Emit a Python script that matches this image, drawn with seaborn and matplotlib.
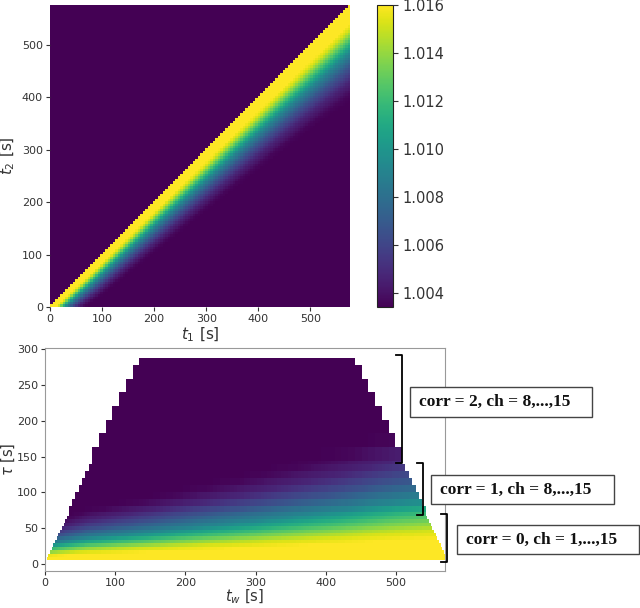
import numpy as np
import matplotlib
matplotlib.use('Agg')
import matplotlib.pyplot as plt
from matplotlib.patches import Rectangle
from matplotlib.lines import Line2D
import seaborn as sns

# ---- values ----
FRAME = 4.8          # s per frame
N_FRAMES = 120       # 576 s in total
# decay time of the correlation band vs age t_w
TW_KNOTS = [0, 60, 150, 300, 420, 500, 576]
TC_KNOTS = [22, 30, 37, 50, 62, 72, 78]
# g2 level vs (lag / decay time)
LAG_RATIO = [0.0, 0.3, 0.6, 0.9, 1.2, 1.6, 2.0, 2.4, 3.0, 20.0]
G2_LEVEL = [1.0175, 1.0168, 1.0152, 1.0122, 1.0092, 1.0066, 1.0047, 1.0036, 1.0031, 1.0030]
VMIN, VMAX = 1.0034, 1.016
CBAR_TICKS = [1.004, 1.006, 1.008, 1.010, 1.012, 1.014, 1.016]
T_TICKS = [0, 100, 200, 300, 400, 500]
TAU_TICKS = [0, 50, 100, 150, 200, 250, 300]
# multi-tau levels: rows (in frames of lag) and block size
LEVEL_LABELS = ['corr = 0, ch = 1,...,15', 'corr = 1, ch = 8,...,15', 'corr = 2, ch = 8,...,15']
LEVEL_ROWS = [(1, 15), (15, 30), (30, 60)]
LEVEL_BLOCK = [1, 2, 4]

W, H = 640, 608
T = N_FRAMES * FRAME


def g2(tw, lag):
    tc = np.interp(tw, TW_KNOTS, TC_KNOTS)
    return np.interp(lag / tc, LAG_RATIO, G2_LEVEL)


def fig_xy(x, y):
    return x / W, 1 - y / H


# ---- two-time matrix (rows t2, cols t1) ----
t = (np.arange(N_FRAMES) + 0.5) * FRAME
t1, t2 = np.meshgrid(t, t)
lag = t1 - t2
two_time = np.where(lag >= 0, g2((t1 + t2) / 2, np.clip(lag, 0, None)), G2_LEVEL[-1])

# ---- age / lag map, coarser blocks for the higher multi-tau levels ----
ncol = 2 * N_FRAMES
aged = np.full((60, ncol), np.nan)
for (r0, r1), b in zip(LEVEL_ROWS, LEVEL_BLOCK):
    for rb in range(r0, r1, b):
        re = min(rb + b, r1)
        tau_lo = rb * FRAME
        tau_c = (rb + re) / 2 * FRAME
        for cb in range(0, ncol, b):
            tw = (cb + b / 2) * FRAME / 2
            if tau_lo / 2 <= tw <= T - tau_lo / 2:
                aged[rb:re, cb:cb + b] = g2(tw, tau_c)

fig = plt.figure(figsize=(W / 100, H / 100), dpi=100)
ax1 = fig.add_axes([50 / W, 1 - 307 / H, 300 / W, 302 / H])
cax = fig.add_axes([377 / W, 1 - 307 / H, 16 / W, 302 / H])
ax2 = fig.add_axes([45 / W, 1 - 571 / H, 400 / W, 223 / H])

tick_color = '#333333'

sns.heatmap(two_time, ax=ax1, cmap='viridis', vmin=VMIN, vmax=VMAX, cbar_ax=cax,
            xticklabels=False, yticklabels=False)
ax1.set_xlim(0, N_FRAMES)
ax1.set_ylim(0, N_FRAMES)
ax1.set_xticks(np.array(T_TICKS) / FRAME)
ax1.set_xticklabels(T_TICKS)
ax1.set_yticks(np.array(T_TICKS) / FRAME)
ax1.set_yticklabels(T_TICKS, rotation=0)
ax1.tick_params(labelsize=8, length=3, pad=2, colors=tick_color)
ax1.set_xlabel('$t_1$ [s]', fontsize=11, color=tick_color)
ax1.set_ylabel('$t_2$ [s]', fontsize=11, color=tick_color)
ax1.xaxis.set_label_coords(0.5, -0.06)
ax1.yaxis.set_label_coords(-0.11, 0.5)

cb = ax1.collections[0].colorbar
cb.set_ticks(CBAR_TICKS)
cb.set_ticklabels([f'{v:.3f}' for v in CBAR_TICKS])
cb.ax.tick_params(labelsize=10.5, length=3.5, colors=tick_color)
cb.outline.set_visible(True)
cb.outline.set_linewidth(0.8)
cb.outline.set_edgecolor('#222222')

sns.heatmap(aged, ax=ax2, cmap='viridis', vmin=VMIN, vmax=VMAX, cbar=False,
            xticklabels=False, yticklabels=False)
ax2.set_xlim(0, 570 / (FRAME / 2))
ax2.set_ylim(-10 / FRAME, 302 / FRAME)
ax2.set_xticks(np.array(T_TICKS) / (FRAME / 2))
ax2.set_xticklabels(T_TICKS)
ax2.set_yticks(np.array(TAU_TICKS) / FRAME)
ax2.set_yticklabels(TAU_TICKS, rotation=0)
ax2.tick_params(labelsize=8, length=3, pad=2, colors=tick_color)
for s in ax2.spines.values():
    s.set_visible(True)
    s.set_color('#999999')
    s.set_linewidth(0.8)
ax2.set_xlabel('$t_w$ [s]', fontsize=10.5, color=tick_color)
ax2.set_ylabel(r'$\tau$ [s]', fontsize=10.5, color=tick_color)
ax2.xaxis.set_label_coords(0.5, -0.076)
ax2.yaxis.set_label_coords(-0.07, 0.5)

# brackets marking the multi-tau levels
brackets = [(402, 355, 463), (423, 463, 515), (447, 514, 562)]
for x, ya, yb in brackets:
    xs = [x - 6, x, x, x - 6]
    ys = [ya, ya, yb, yb]
    fx = [fig_xy(a, 0)[0] for a in xs]
    fy = [fig_xy(0, b)[1] for b in ys]
    fig.add_artist(Line2D(fx, fy, color='black', lw=1.3, transform=fig.transFigure))

# label boxes
boxes = [(457, 525, 182, 29), (431, 475, 183, 29), (410, 387, 182, 30)]
for label, (x, y, w, h) in zip(LEVEL_LABELS, boxes):
    x0, y0 = fig_xy(x, y + h)
    fig.add_artist(Rectangle((x0, y0), w / W, h / H, transform=fig.transFigure,
                             facecolor='white', edgecolor='#444444', lw=1.0))
    tx, ty = fig_xy(x + 9, y + h / 2)
    fig.text(tx, ty, label, fontsize=12.5, family='Liberation Serif', weight='bold',
             ha='left', va='center', color='#111111')

fig.savefig('out.png', dpi=100)
